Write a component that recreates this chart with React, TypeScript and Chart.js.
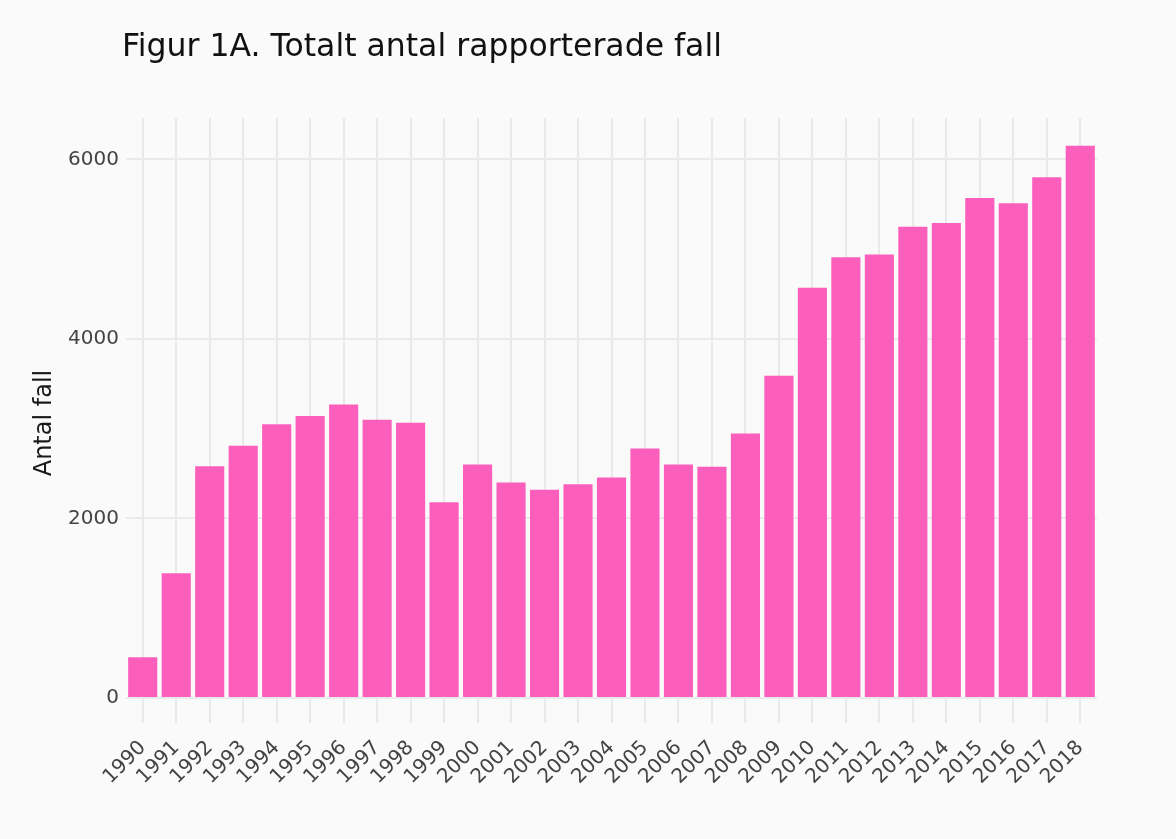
import React, { useEffect, useRef } from "react";
import { Chart, registerables } from "chart.js";

Chart.register(...registerables);

const years = [
  "1990", "1991", "1992", "1993", "1994", "1995", "1996", "1997", "1998", "1999",
  "2000", "2001", "2002", "2003", "2004", "2005", "2006", "2007", "2008", "2009",
  "2010", "2011", "2012", "2013", "2014", "2015", "2016", "2017", "2018",
];
const cases = [
  455, 1390, 2580, 2810, 3050, 3140, 3270, 3100, 3065, 2180,
  2600, 2400, 2320, 2380, 2455, 2780, 2600, 2575, 2945, 3590,
  4570, 4910, 4940, 5250, 5290, 5570, 5510, 5800, 6150,
];
const yTickValues = [0, 2000, 4000, 6000];
const titleText = "Figur 1A. Totalt antal rapporterade fall";
const yAxisTitle = "Antal fall";

const FONT = "'DejaVu Sans', Verdana, sans-serif";

export default function App() {
  const ref = useRef<HTMLCanvasElement | null>(null);

  useEffect(() => {
    if (!ref.current) return;
    const textPlugin = {
      id: "customText",
      beforeDraw(chart: any) {
        const ctx = chart.ctx;
        ctx.save();
        ctx.fillStyle = "#fafafa";
        ctx.fillRect(0, 0, chart.width, chart.height);
        ctx.restore();
      },
      afterDraw(chart: any) {
        const ctx = chart.ctx;
        ctx.save();
        ctx.fillStyle = "#111111";
        ctx.font = `31.5px ${FONT}`;
        ctx.textBaseline = "middle";
        ctx.textAlign = "left";
        ctx.fillText(titleText, 122, 48);
        ctx.translate(45, 423);
        ctx.rotate(-Math.PI / 2);
        ctx.textAlign = "center";
        ctx.font = `24px ${FONT}`;
        ctx.fillStyle = "#1a1a1a";
        ctx.fillText(yAxisTitle, 0, 0);
        ctx.restore();
      },
    };

    const chart = new Chart(ref.current, {
      type: "bar",
      data: {
        labels: years,
        datasets: [
          {
            data: cases,
            backgroundColor: "#fb5fbb",
            borderWidth: 0,
            barPercentage: 0.87,
            categoryPercentage: 1,
          },
        ],
      },
      options: {
        responsive: false,
        animation: false,
        layout: { padding: { top: 118, right: 79, bottom: 0, left: 0 } },
        plugins: {
          legend: { display: false },
          tooltip: { enabled: false },
          title: { display: false },
        },
        scales: {
          x: {
            afterFit: (s: any) => {
              s.height = 141;
            },
            border: { display: false },
            grid: {
              offset: false,
              color: "#e9e9e9",
              lineWidth: 2,
              drawTicks: true,
              tickLength: 25,
              tickColor: "#e9e9e9",
            },
            ticks: {
              autoSkip: false,
              maxRotation: 45,
              minRotation: 45,
              padding: 13,
              color: "#444444",
              font: { family: FONT, size: 20 },
            },
          },
          y: {
            min: 0,
            max: 6460,
            afterFit: (s: any) => {
              s.width = 126;
            },
            afterBuildTicks: (s: any) => {
              s.ticks = yTickValues.map((v) => ({ value: v }));
            },
            border: { display: false },
            grid: {
              color: "#eaeaea",
              lineWidth: 2,
              drawTicks: false,
            },
            ticks: {
              padding: 7,
              color: "#444444",
              font: { family: FONT, size: 20 },
              callback: (v: any) => String(v),
            },
          },
        },
      },
      plugins: [textPlugin],
    });
    return () => chart.destroy();
  }, []);

  return (
    <div
      style={{
        position: "fixed",
        left: 0,
        top: 0,
        width: 1176,
        height: 839,
        background: "#fafafa",
      }}
    >
      <canvas ref={ref} width={1176} height={839} style={{ width: 1176, height: 839 }} />
    </div>
  );
}
